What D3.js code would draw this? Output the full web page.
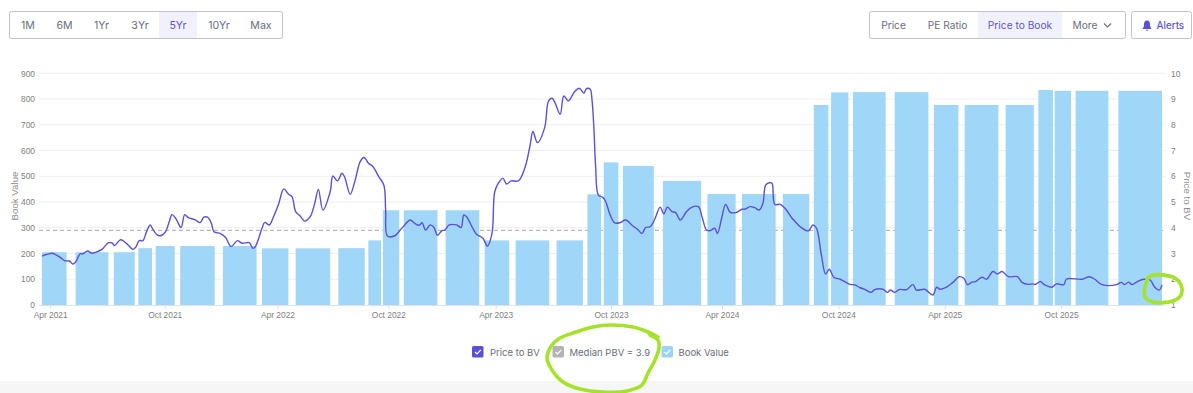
<!DOCTYPE html>
<html>
<head>
<meta charset="utf-8">
<script src="https://cdn.jsdelivr.net/npm/d3@7"></script>
<style>
  html, body { margin: 0; padding: 0; background: #fff; }
  svg { display: block; }
  .axis text { font-family: "Liberation Sans", Arial, sans-serif; font-size: 8.4px; fill: #808080; }
  .axis path { display: none; }
  .ui { font-family: Inter, sans-serif; font-size: 10.6px; fill: #6b6e7c; }
</style>
</head>
<body>
<svg id="chart" width="1193" height="393"></svg>
<script>
// the site plots trading sessions evenly, so x is a session number and not a date
const sessionCount = 1232;
const tickSessions = [9, 135, 259, 381, 499, 626, 748, 876, 993, 1121];
const tickLabels = ["Apr 2021", "Oct 2021", "Apr 2022", "Oct 2022", "Apr 2023", "Oct 2023", "Apr 2024", "Oct 2024", "Apr 2025", "Oct 2025"];
const bookTicks = [0, 100, 200, 300, 400, 500, 600, 700, 800, 900];
const pbvTicks = [1, 2, 3, 4, 5, 6, 7, 8, 9, 10];
const medianPbv = 3.9;

// book value bars
const barStart = [0, 37, 79, 106, 125, 152, 199, 242, 279, 326, 359, 375, 398, 444, 487, 521, 566, 600, 618, 639, 683, 732, 770, 815, 849, 868, 892, 938, 981, 1015, 1060, 1096, 1114, 1137, 1184];
const barEnd = [27, 73, 102, 121, 146, 190, 236, 271, 317, 355, 373, 393, 435, 481, 514, 558, 595, 615, 634, 673, 725, 763, 807, 844, 865, 887, 928, 975, 1008, 1052, 1091, 1112, 1132, 1173, 1232];
const bookValue = [205, 205, 205, 221, 229, 229, 229, 220, 220, 221, 251, 368, 368, 368, 251, 251, 251, 430, 554, 540, 482, 431, 431, 431, 777, 826, 827, 827, 777, 777, 777, 835, 832, 832, 832];

// price to book line
const pbvSessions = [0, 5, 11, 14, 20, 25, 30, 34, 37, 42, 45, 50, 55, 60, 66, 73, 77, 80, 86, 89, 95, 100, 103, 107, 111, 115, 119, 122, 127, 132, 136, 140, 143, 147, 153, 157, 161, 168, 174, 178, 182, 186, 189, 192, 196, 202, 208, 215, 220, 228, 232, 235, 242, 245, 250, 254, 260, 266, 271, 275, 279, 284, 289, 295, 300, 304, 309, 317, 320, 325, 330, 333, 339, 344, 350, 354, 356, 359, 364, 370, 376, 378, 380, 388, 394, 399, 405, 410, 415, 418, 422, 427, 431, 435, 440, 443, 448, 456, 461, 464, 467, 473, 478, 485, 490, 495, 498, 502, 507, 511, 516, 524, 531, 537, 540, 545, 553, 557, 561, 564, 570, 574, 579, 586, 591, 596, 599, 603, 605, 607, 609, 612, 617, 620, 625, 630, 636, 642, 650, 655, 660, 664, 669, 674, 680, 684, 688, 693, 697, 702, 709, 715, 722, 726, 731, 735, 740, 743, 748, 752, 757, 764, 770, 773, 779, 784, 789, 793, 796, 800, 803, 806, 812, 818, 825, 828, 834, 843, 848, 852, 857, 862, 866, 871, 878, 883, 889, 894, 900, 905, 912, 916, 925, 930, 933, 938, 943, 951, 958, 962, 971, 980, 984, 988, 995, 1002, 1009, 1014, 1018, 1023, 1027, 1034, 1039, 1046, 1051, 1056, 1063, 1073, 1078, 1085, 1089, 1093, 1098, 1103, 1111, 1116, 1124, 1127, 1144, 1152, 1158, 1166, 1182, 1187, 1191, 1195, 1199, 1205, 1212, 1219, 1224, 1229, 1232];
const pbvValues = [2.90, 2.96, 3.01, 2.98, 2.85, 2.72, 2.71, 2.59, 2.67, 2.99, 2.99, 3.10, 3.01, 3.06, 3.16, 3.42, 3.41, 3.31, 3.53, 3.50, 3.32, 3.16, 3.24, 3.50, 3.50, 3.85, 4.11, 3.94, 3.71, 3.71, 3.85, 4.24, 4.51, 4.37, 4.01, 4.51, 4.39, 4.32, 4.20, 4.41, 4.41, 4.20, 3.85, 3.81, 3.78, 3.62, 3.27, 3.50, 3.40, 3.42, 3.20, 3.29, 3.98, 4.21, 4.11, 4.37, 4.89, 5.51, 5.31, 5.21, 4.63, 4.46, 4.26, 4.43, 4.95, 5.49, 4.69, 5.40, 6.01, 5.82, 6.12, 5.96, 5.30, 5.79, 6.57, 6.73, 6.67, 6.51, 6.38, 6.01, 5.66, 4.69, 3.68, 3.69, 3.91, 4.11, 4.30, 4.17, 4.10, 4.20, 3.91, 4.11, 4.02, 3.71, 3.89, 3.91, 4.11, 4.11, 4.01, 4.50, 4.43, 4.04, 3.75, 3.59, 3.29, 3.78, 5.40, 5.73, 5.92, 5.70, 5.82, 5.82, 6.31, 7.22, 7.74, 7.31, 7.90, 8.90, 9.03, 8.88, 8.41, 9.12, 8.93, 9.29, 9.42, 9.23, 9.41, 9.38, 8.97, 7.93, 6.38, 5.27, 5.18, 5.02, 4.50, 4.19, 4.20, 4.30, 4.07, 3.94, 3.78, 4.01, 4.04, 4.33, 4.80, 4.54, 4.80, 4.63, 4.59, 4.30, 4.63, 4.80, 4.82, 4.43, 3.91, 3.89, 3.98, 3.78, 4.43, 4.91, 4.60, 4.60, 4.72, 4.72, 4.82, 4.78, 4.69, 4.95, 5.66, 5.75, 5.73, 4.91, 4.91, 4.73, 4.37, 4.26, 4.04, 3.88, 4.11, 3.98, 3.01, 2.20, 2.39, 2.08, 2.00, 1.91, 1.80, 1.78, 1.67, 1.61, 1.49, 1.60, 1.61, 1.49, 1.58, 1.49, 1.60, 1.60, 1.79, 1.58, 1.61, 1.39, 1.69, 1.61, 1.69, 1.88, 2.10, 2.04, 1.79, 1.89, 1.91, 2.08, 2.00, 2.30, 2.20, 2.30, 2.10, 2.10, 1.88, 1.80, 1.82, 1.80, 1.91, 1.78, 1.69, 1.82, 1.79, 2.01, 2.00, 2.10, 2.00, 1.79, 1.79, 1.88, 1.79, 1.89, 1.79, 1.91, 2.00, 1.97, 1.69, 1.58, 1.78];

const rangeLabels = ["1M", "6M", "1Yr", "3Yr", "5Yr", "10Yr", "Max"];
const metricLabels = ["Price", "PE Ratio", "Price to Book", "More"];
const legendLabels = ["Price to BV", "Median PBV = " + medianPbv, "Book Value"];

const purple = "#5b51d8", barBlue = "#9bd4f7", marker = "#a5e22b";
const svg = d3.select("#chart");

// scales
const x = d3.scaleLinear().domain([0, sessionCount]).range([42, 1162]);
const yBook = d3.scaleLinear().domain([0, 900]).range([305, 73.3]);
const yPbv = d3.scaleLinear().domain([1, 10]).range([305, 73.3]);

// grid
svg.append("g").selectAll("line")
    .data(bookTicks.slice(1))
    .join("line")
    .attr("x1", 39).attr("x2", 1165)
    .attr("y1", d => yBook(d)).attr("y2", d => yBook(d))
    .attr("stroke", "#eeeef0");

// median line goes under the bars
svg.append("line")
    .attr("x1", 39).attr("x2", 1165)
    .attr("y1", yPbv(medianPbv)).attr("y2", yPbv(medianPbv))
    .attr("stroke", "#a9a9a9").attr("stroke-dasharray", "4,3");

// bars, just barely see-through like the original
svg.append("g").selectAll("rect")
    .data(barStart.map((s, i) => ({start: s, end: barEnd[i], value: bookValue[i]})))
    .join("rect")
    .attr("x", d => x(d.start))
    .attr("width", d => x(d.end) - x(d.start))
    .attr("y", d => yBook(d.value))
    .attr("height", d => yBook(0) - yBook(d.value))
    .attr("fill", barBlue)
    .attr("fill-opacity", 0.95);

// axes
svg.append("g").attr("class", "axis")
    .attr("transform", "translate(39,0)")
    .call(d3.axisLeft(yBook).tickValues(bookTicks).tickSize(0).tickPadding(4));
svg.append("g").attr("class", "axis")
    .attr("transform", "translate(1165,0)")
    .call(d3.axisRight(yPbv).tickValues(pbvTicks).tickSize(0).tickPadding(6));

let xAxis = svg.append("g").attr("class", "axis")
    .attr("transform", "translate(0,305)")
    .call(d3.axisBottom(x).tickValues(tickSessions).tickFormat((d, i) => tickLabels[i]).tickSize(4).tickPadding(3));
xAxis.selectAll("line").attr("stroke", "#d8d8e0");
svg.append("line")
    .attr("x1", 39).attr("x2", 1165).attr("y1", 305.5).attr("y2", 305.5)
    .attr("stroke", "#dfe0ea");

// axis titles
svg.append("text")
    .attr("transform", "translate(17.5,196) rotate(-90)")
    .attr("text-anchor", "middle")
    .style("font", "9.7px 'Liberation Sans'").attr("fill", "#8f8f8f")
    .text("Book Value");
svg.append("text")
    .attr("transform", "translate(1184,196) rotate(90)")
    .attr("text-anchor", "middle")
    .style("font", "9.7px 'Liberation Sans'").attr("fill", "#8f8f8f")
    .text("Price to BV");

// price to book line
let line = d3.line()
    .x(d => x(d[0]))
    .y(d => yPbv(d[1]))
    .curve(d3.curveCatmullRom.alpha(0.5));
svg.append("path")
    .datum(pbvSessions.map((s, i) => [s, pbvValues[i]]))
    .attr("d", line)
    .attr("fill", "none")
    .attr("stroke", purple)
    .attr("stroke-width", 1.4);

// button groups above the chart
function buttonBox(x0, x1){
    svg.append("rect")
        .attr("x", x0 + 0.5).attr("y", 11.5)
        .attr("width", x1 - x0).attr("height", 27)
        .attr("rx", 2)
        .attr("fill", "none").attr("stroke", "#c2c2c8");
}

svg.append("rect").attr("x", 159).attr("y", 12).attr("width", 38).attr("height", 26).attr("fill", "#f1f1fd");
svg.append("rect").attr("x", 978).attr("y", 12).attr("width", 84).attr("height", 26).attr("fill", "#f1f1fd");
buttonBox(9, 282);
buttonBox(869, 1125);
buttonBox(1131, 1191);

let rangeCenters = [28, 64.5, 101.5, 140, 178, 219, 261];
svg.append("g").selectAll("text")
    .data(rangeLabels)
    .join("text")
    .attr("class", "ui")
    .attr("x", (d, i) => rangeCenters[i]).attr("y", 28.5)
    .attr("text-anchor", "middle")
    .style("fill", d => d === "5Yr" ? purple : null)
    .text(d => d);

let metricCenters = [893.5, 947.5, 1020, 1085];
svg.append("g").selectAll("text")
    .data(metricLabels)
    .join("text")
    .attr("class", "ui")
    .attr("x", (d, i) => metricCenters[i]).attr("y", 28.5)
    .attr("text-anchor", "middle")
    .style("font-size", "10.2px")
    .style("fill", d => d === "Price to Book" ? purple : null)
    .text(d => d);

// chevron next to More
svg.append("path")
    .attr("d", "M1104 23.5 L1107.5 27 L1111 23.5")
    .attr("fill", "none").attr("stroke", "#6e6e7c").attr("stroke-width", 1.1);

// bell + Alerts
svg.append("path")
    .attr("d", "M1147 20.5 C1149.5 20.5 1150 22.5 1150 24.5 C1150 27 1151 28 1151.5 29 L1142.5 29 C1143 28 1144 27 1144 24.5 C1144 22.5 1144.5 20.5 1147 20.5 Z M1145.8 29.8 L1148.2 29.8 C1148.2 31.2 1145.8 31.2 1145.8 29.8 Z")
    .attr("fill", purple);
svg.append("text").attr("class", "ui")
    .attr("x", 1156.5).attr("y", 28.5)
    .style("fill", purple).style("font-weight", 500).style("font-size", "9.8px")
    .text("Alerts");

// legend
let legendBoxX = [472, 552.5, 661.5];
let legendTextX = [18, 17, 17];
let legendColors = [purple, "#b5b5b5", barBlue];
let legend = svg.append("g").selectAll("g")
    .data(legendLabels)
    .join("g")
    .attr("transform", (d, i) => `translate(${legendBoxX[i]},346)`);
legend.append("rect")
    .attr("width", 11.5).attr("height", 11.5).attr("rx", 1.5)
    .attr("fill", (d, i) => legendColors[i]);
legend.append("path")
    .attr("d", "M3 6 L5 8 L8.8 3.8")
    .attr("fill", "none").attr("stroke", "#fff").attr("stroke-width", 1.2);
legend.append("text")
    .attr("class", "ui")
    .attr("x", (d, i) => legendTextX[i]).attr("y", 9.7)
    .style("font-size", "9.5px")
    .text(d => d);

// footer band
svg.append("rect").attr("x", 0).attr("y", 381).attr("width", 1193).attr("height", 12).attr("fill", "#f6f6f7");

// hand drawn green marks on top of everything
let scribble = d3.line().curve(d3.curveCatmullRom);
let scribbles = [
    [[658,337],[648,332],[633,327],[610,325],[593,327],[573,333],[560,338],[552,345],[547,358],[552,370],[563,382],[580,389],[603,392],[627,391],[642,385],[648,373],[655,360],[659,348],[658,340],[650,335]],
    [[1173,277],[1150,276],[1145,287],[1145,297],[1153,302],[1173,301],[1181,295],[1181,285],[1173,277],[1153,275],[1147,279]]
];
svg.append("g").selectAll("path")
    .data(scribbles)
    .join("path")
    .attr("d", d => scribble(d))
    .attr("fill", "none")
    .attr("stroke", marker)
    .attr("stroke-width", 3.6)
    .attr("stroke-linecap", "round");
</script>
</body>
</html>
